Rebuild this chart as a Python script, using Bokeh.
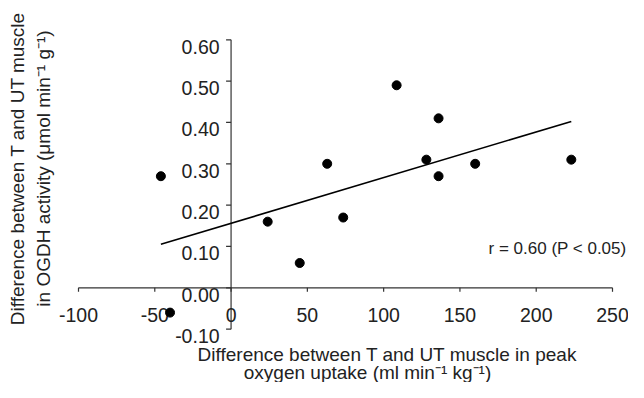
import numpy as np
from bokeh.plotting import figure
from bokeh.models import Range1d
from bokeh.core.properties import value
from bokeh.embed import file_html
from bokeh.resources import INLINE

# Data
peak_vo2_diff = [-46, -40, 24, 45, 63, 73.5, 108.5, 128, 136, 136, 160, 223]
ogdh_diff = [0.27, -0.06, 0.16, 0.06, 0.30, 0.17, 0.49, 0.31, 0.41, 0.27, 0.30, 0.31]
x_ticks = [-100, -50, 0, 50, 100, 150, 200, 250]
x_tick_labels = ["-100", "-50", "0", "50", "100", "150", "200", "250"]
y_ticks = [-0.10, 0.0, 0.10, 0.20, 0.30, 0.40, 0.50, 0.60]
y_tick_labels = ["-0.10", "0.00", "0.10", "0.20", "0.30", "0.40", "0.50", "0.60"]
x_title_1 = "Difference between T and UT muscle in peak"
x_title_2 = "oxygen uptake (ml min\u207b\u00b9 kg\u207b\u00b9)"
y_title_1 = "Difference between T and UT muscle"
y_title_2 = "in OGDH activity (\u03bcmol min\u207b\u00b9 g\u207b\u00b9)"
stat_text = "r = 0.60 (P < 0.05)"

FONT = value("Liberation Sans")
TXT = "#222222"
AX = "#333333"

# pixel scale of the data space (frame covers the whole figure)
W, H = 628, 382
PX_X = (612 - 78) / 350.0   # px per x unit (-100 at 78px, 250 at 612px)
PX_Y = (287.3 - 39.3) / 0.6  # px per y unit (0.60 at 39.3px, 0 at 287.3px)
X0_PX = 78 + 100 * PX_X
Y0_PX = 287.3
x_lo = -X0_PX / PX_X
x_hi = (W - X0_PX) / PX_X
y_hi = Y0_PX / PX_Y
y_lo = -(H - Y0_PX) / PX_Y

p = figure(width=W, height=H,
           x_range=Range1d(x_lo, x_hi), y_range=Range1d(y_lo, y_hi),
           output_backend="svg", toolbar_location=None,
           x_axis_location=None, y_axis_location=None,
           min_border_left=0, min_border_right=0,
           min_border_top=0, min_border_bottom=0)
p.grid.grid_line_color = None
p.outline_line_color = None
p.background_fill_color = "white"
p.border_fill_color = "white"

# axes crossing at the origin
p.segment(x0=[x_ticks[0], 0], y0=[0, y_ticks[0]],
          x1=[x_ticks[-1], 0], y1=[0, y_ticks[-1]],
          line_color=AX, line_width=1.2)
# tick marks
p.segment(x0=x_ticks, y0=[0] * len(x_ticks), x1=x_ticks,
          y1=[-4 / PX_Y] * len(x_ticks), line_color=AX, line_width=1.2)
p.segment(x0=[0] * len(y_ticks), y0=y_ticks, x1=[-5 / PX_X] * len(y_ticks),
          y1=y_ticks, line_color=AX, line_width=1.2)

# tick labels
p.text(x=x_ticks, y=[0] * len(x_ticks), text=x_tick_labels,
       text_font=FONT, text_font_size="19.5px", text_color=TXT,
       text_align="center", text_baseline="alphabetic", y_offset=27.5)
p.text(x=[0] * len(y_ticks), y=y_ticks, text=y_tick_labels,
       text_font=FONT, text_font_size="19.5px", text_color=TXT,
       text_align="right", text_baseline="alphabetic", x_offset=-11.5, y_offset=7)

# regression line from the data
slope, intercept = np.polyfit(peak_vo2_diff, ogdh_diff, 1)
fx = np.array([min(peak_vo2_diff), max(peak_vo2_diff)])
p.line(fx, slope * fx + intercept, line_color="black", line_width=1.6)

p.scatter(peak_vo2_diff, ogdh_diff, size=9, fill_color="black", line_color="black")

def lab(text, px, py, size, align="center", baseline="alphabetic", angle=0.0):
    # px, py: pixel anchor in the picture converted to data space
    x = (px - X0_PX) / PX_X
    y = (Y0_PX - py) / PX_Y
    p.text(x=[x], y=[y], text=[text], text_font=FONT, text_font_size=size,
           text_color=TXT, text_align=align, text_baseline=baseline, angle=angle)

lab(stat_text, 626, 248, "17px", align="right")
lab(x_title_1, 387, 354, "19px")
lab(x_title_2, 367, 371.5, "19px")
lab(y_title_1, 17, 168, "19px", baseline="middle", angle=np.pi / 2)
lab(y_title_2, 43, 168, "19px", baseline="middle", angle=np.pi / 2)

open("out.html", "w").write(file_html(p, INLINE))
